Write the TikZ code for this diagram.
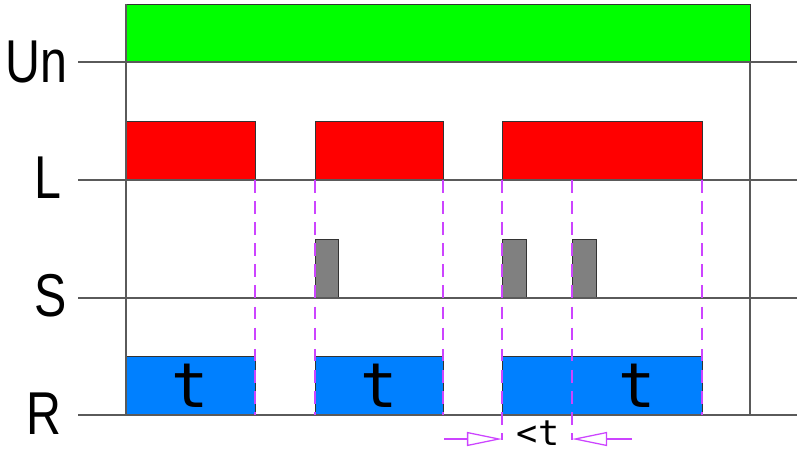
\documentclass[tikz,border=0pt]{standalone}
\usepackage{fontspec}
\setmainfont{Liberation Sans}
\newfontfamily\monofont{DejaVu Sans Mono}
\usetikzlibrary{arrows.meta}
\definecolor{unGreen}{RGB}{0,255,0}
\definecolor{lRed}{RGB}{255,0,0}
\definecolor{rBlue}{RGB}{0,128,255}
\definecolor{sGrey}{RGB}{128,128,128}
\definecolor{markViolet}{RGB}{204,68,255}
\definecolor{axisGrey}{RGB}{90,90,90}
\newcommand{\signame}[1]{\scalebox{0.8}[1]{#1}}
\begin{document}
\begin{tikzpicture}[x=0.025cm,y=-0.025cm,
    axisline/.style={axisGrey,line width=1.4pt},
    bar/.style={draw=black!80,line width=0.6pt},
    marker/.style={markViolet,line width=0.9pt,dash pattern=on 9pt off 6pt},
    dim/.style={markViolet,line width=0.9pt,-{Triangle[open,length=0.875cm,width=0.35cm]}},
    sig/.style={font=\fontsize{43}{43}\selectfont,anchor=east,inner sep=0pt}]
    \useasboundingbox (0,0) rectangle (800,454);

    % Bars
    \fill[unGreen] (126,4) rectangle (750,62);
    \draw[bar] (126,62) -- (126,4) -- (750,4) -- (750,62);
    \foreach \a/\b in {126/255,315/443,502/702} {
        \draw[bar,fill=lRed] (\a,121) rectangle (\b,180);
        \draw[bar,fill=rBlue] (\a,356) rectangle (\b,415);
    }
    \foreach \a/\b in {315/338,502/526,572/596}
        \draw[bar,fill=sGrey] (\a,239) rectangle (\b,298);

    % Time labels
    \foreach \x in {190,379,637}
        \node[font=\monofont\fontsize{44}{44}\selectfont] at (\x,386) {t};

    % Axes
    \foreach \y in {62,180,298,415}
        \draw[axisline] (78,\y) -- (797,\y);
    \draw[axisline] (126,4) -- (126,415);
    \draw[axisline] (750,62) -- (750,415);

    % Signal names
    \node[sig] (un) at (68,62) {\signame{Un}};
    \node[sig] (l) at (62,178) {\signame{L}};
    \node[sig] (s) at (67,296) {\signame{S}};
    \node[sig] (r) at (62,414) {\signame{R}};

    % Dashed markers
    \foreach \x in {255,315,443,702}
        \draw[marker] (\x,180) -- (\x,415);
    \draw[marker] (502,180) -- (502,440) coordinate (m1);
    \draw[marker] (572,180) -- (572,440) coordinate (m2);

    % Less than t
    \coordinate (d1) at (444,439);
    \coordinate (d2) at (632,439);
    \draw[dim] (d1) -- (m1 |- d1);
    \draw[dim] (d2) -- (m2 |- d2);
    \node[font=\monofont\fontsize{25}{25}\selectfont,anchor=base,inner sep=0pt] (lt) at (538,445) {<t};
\end{tikzpicture}
\end{document}
